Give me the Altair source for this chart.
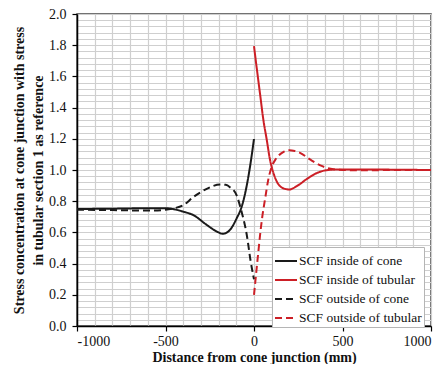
import altair as alt
import pandas as pd

# ---- data ----
cone_in_x = [-1000, -800, -600, -500, -450, -400, -343, -267, -211, -177, -136, -98, -70, -41, -19, 0]
cone_in_y = [0.750, 0.752, 0.755, 0.755, 0.748, 0.733, 0.711, 0.648, 0.606, 0.591, 0.616, 0.690, 0.763, 0.900, 1.047, 1.200]

tub_in_x = [0, 15, 34, 53, 72, 90, 109, 137, 175, 200, 241, 298, 354, 411, 486, 600, 800, 1000]
tub_in_y = [1.794, 1.657, 1.489, 1.321, 1.194, 1.068, 0.984, 0.910, 0.879, 0.875, 0.896, 0.942, 0.980, 0.999, 1.004, 1.004, 1.002, 1.000]

cone_out_x = [-1000, -800, -600, -500, -450, -400, -343, -267, -192, -160, -136, -98, -70, -41, -19, -4, 0]
cone_out_y = [0.745, 0.743, 0.740, 0.745, 0.755, 0.774, 0.826, 0.879, 0.907, 0.905, 0.890, 0.837, 0.732, 0.585, 0.416, 0.322, 0.300]

tub_out_x = [0, 8, 15, 25, 34, 48, 62, 81, 100, 120, 137, 165, 200, 230, 260, 316, 382, 448, 500, 600, 800, 1000]
tub_out_y = [0.200, 0.290, 0.370, 0.480, 0.580, 0.710, 0.810, 0.940, 1.020, 1.065, 1.090, 1.115, 1.127, 1.122, 1.110, 1.068, 1.026, 1.005, 1.000, 0.998, 1.000, 1.000]

series_names = ["SCF inside of cone", "SCF inside of tubular", "SCF outside of cone", "SCF outside of tubular"]
series_colors = ["#1a1a1a", "#cc1f26", "#1a1a1a", "#cc1f26"]
series_dash = [[1, 0], [1, 0], [7, 4], [7, 4]]

x_grid = list(range(-1000, 1001, 100))
y_grid = [round(i * 0.04, 2) for i in range(51)]

rows = []
for name, xs, ys in zip(series_names,
                        [cone_in_x, tub_in_x, cone_out_x, tub_out_x],
                        [cone_in_y, tub_in_y, cone_out_y, tub_out_y]):
    for i, (x, y) in enumerate(zip(xs, ys)):
        rows.append({"series": name, "x": x, "y": y, "order": i})
df = pd.DataFrame(rows)

FONT = "Liberation Serif"

x_axis = alt.Axis(
    values=x_grid,
    labelExpr="datum.value % 500 === 0 ? (datum.value < 0 ? '-' + abs(datum.value) : '' + datum.value) : ''",
    tickOpacity={"condition": {"test": "datum.value % 500 === 0", "value": 1}, "value": 0},
    title="Distance from cone junction (mm)",
)
y_axis = alt.Axis(
    values=y_grid,
    labelExpr="abs(datum.value*5 - round(datum.value*5)) < 0.001 ? format(datum.value, '.1f') : ''",
    tickOpacity={"condition": {"test": "abs(datum.value*5 - round(datum.value*5)) < 0.001", "value": 1}, "value": 0},
    title=["Stress concentration at cone junction with stress", "in tubular section 1 as reference"],
)

chart = alt.Chart(df).mark_line(strokeWidth=2, interpolate="monotone").encode(
    x=alt.X("x:Q", scale=alt.Scale(domain=[-1000, 1000], nice=False, zero=False), axis=x_axis),
    y=alt.Y("y:Q", scale=alt.Scale(domain=[0, 2], nice=False), axis=y_axis),
    color=alt.Color("series:N", scale=alt.Scale(domain=series_names, range=series_colors),
                    legend=alt.Legend(title=None)),
    strokeDash=alt.StrokeDash("series:N", scale=alt.Scale(domain=series_names, range=series_dash),
                              legend=alt.Legend(title=None)),
    detail="series:N",
    order="order:Q",
).properties(
    width=354,
    height=312,
    autosize=alt.AutoSizeParams(type="none"),
    padding={"left": 69, "top": 6, "right": 9, "bottom": 38},
).configure(
    font=FONT,
).configure_view(
    stroke="#444444", strokeWidth=1.5,
).configure_axis(
    labelFont=FONT, labelFontSize=14, labelColor="#111111",
    titleFont=FONT, titleFontSize=14, titleFontWeight="bold", titleColor="#111111",
    gridColor="#cfcfcf", gridWidth=1.2, gridOpacity=1,
    domainColor="#000000", domainWidth=1.5,
    tickColor="#000000", tickSize=5, tickWidth=1.2,
).configure_axisX(
    labelPadding=3, titlePadding=2,
).configure_axisY(
    labelPadding=6, titlePadding=3, titleLineHeight=19,
).configure_legend(
    orient="none", legendX=195, legendY=233,
    fillColor="#ffffff", strokeColor="#b5b5b5", padding=2,
    symbolType="stroke", symbolStrokeWidth=2, symbolSize=484,
    labelFont=FONT, labelFontSize=13.5, labelColor="#111111", labelOffset=1,
    rowPadding=-4, labelLimit=200,
)

chart.save("out.html", embed_options={"renderer": "svg", "actions": False})
